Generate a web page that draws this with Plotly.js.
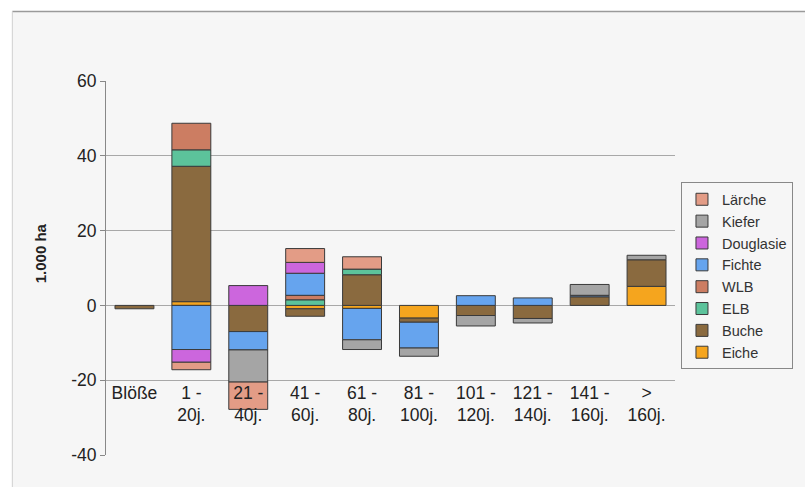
<!DOCTYPE html>
<html>
<head>
<meta charset="utf-8">
<script src="https://cdn.plot.ly/plotly-3.0.1.min.js"></script>
<style>html,body{margin:0;padding:0;background:#fff;}#chart{width:805px;height:487px;}</style>
</head>
<body>
<div id="chart"></div>
<script>
// Categories (age classes)
const categories = ["Blöße", "1 -<br>20j.", "21 -<br>40j.", "41 -<br>60j.", "61 -<br>80j.", "81 -<br>100j.", "101 -<br>120j.", "121 -<br>140j.", "141 -<br>160j.", "><br>160j."];

// Y tick values and labels
const yTickValues = [-40, -20, 0, 20, 40, 60];
const yTickLabels = ["-40", "-20", "0", "20", "40", "60"];

// Series values in 1.000 ha (stack order bottom -> top)
const eiche     = [null, 1.0, null, -0.9, -0.8, -3.4, null, null, null, 5.1];
const buche     = [-0.9, 36.2, -7.0, -2.0, 8.2, -1.1, -2.7, -3.5, 2.3, 7.1];
const elb       = [null, 4.4, null, 1.5, 1.5, null, null, null, null, null];
const wlb       = [null, 7.1, null, 1.2, null, null, null, null, null, null];
const fichte    = [null, -11.8, -4.9, 5.9, -8.4, -6.9, 2.6, 2.0, 0.4, null];
const douglasie = [null, -3.4, 5.3, 2.9, null, null, null, null, null, null];
const kiefer    = [null, null, -8.6, null, -2.6, -2.2, -2.8, -1.2, 2.9, 1.2];
const laerche   = [null, -2.0, -7.3, 3.7, 3.3, null, null, null, null, null];

const seriesNames = ["Eiche", "Buche", "ELB", "WLB", "Fichte", "Douglasie", "Kiefer", "Lärche"];
const seriesValues = [eiche, buche, elb, wlb, fichte, douglasie, kiefer, laerche];
const seriesColors = ["#F5A51E", "#8A6A3F", "#5CC39B", "#CC7D62", "#66A4EE", "#CC66DD", "#A5A5A5", "#E39C86"];

const traces = seriesNames.map((name, i) => ({
  type: "bar",
  name: name,
  x: categories,
  y: seriesValues[i],
  marker: {color: seriesColors[i], line: {color: "#3a3a3a", width: 1}},
  hoverinfo: "x+y+name"
}));

const font = "Arial, 'Liberation Sans', sans-serif";

const boundaries = categories.slice(1).map((_, i) => i + 0.5);

const layout = {
  width: 805, height: 487,
  paper_bgcolor: "#ffffff",
  plot_bgcolor: "rgba(0,0,0,0)",
  margin: {l: 106, r: 128, t: 81, b: 32},
  barmode: "relative",
  bargap: 0.316,
  font: {family: font, color: "#222"},
  showlegend: true,
  legend: {
    traceorder: "reversed",
    x: 1.0105, y: 0.729, xanchor: "left", yanchor: "top",
    bordercolor: "#888", borderwidth: 1, bgcolor: "rgba(0,0,0,0)",
    font: {family: font, size: 14.5, color: "#333"},
    itemwidth: 30
  },
  xaxis: {
    type: "category",
    anchor: "free", position: 0.2,
    showline: false, ticks: "", showgrid: false, zeroline: false,
    tickfont: {family: font, size: 17.5, color: "#222"},
    fixedrange: true
  },
  xaxis2: {
    type: "linear", overlaying: "x", anchor: "free", position: 0.4,
    range: [-0.5, categories.length - 0.5],
    tickmode: "array", tickvals: boundaries,
    ticks: "outside", ticklen: 6, tickcolor: "#555", tickwidth: 1,
    showticklabels: false, showline: true, linecolor: "#555", linewidth: 1,
    showgrid: false, zeroline: false, fixedrange: true
  },
  yaxis: {
    range: [-40, 60],
    tickmode: "array", tickvals: yTickValues, ticktext: yTickLabels,
    showgrid: true, gridcolor: "#a8a8a8", gridwidth: 1,
    zeroline: false,
    showline: true, linecolor: "#888", linewidth: 1,
    ticks: "outside", ticklen: 5, tickcolor: "#888",
    tickfont: {family: font, size: 17.5, color: "#222"},
    fixedrange: true
  },
  annotations: [
    {text: "<b>1.000 ha</b>", xref: "paper", yref: "paper", x: -0.1156, y: 0.54,
     textangle: -90, showarrow: false, xanchor: "center", yanchor: "middle",
     font: {family: font, size: 15, color: "#222"}}
  ],
  shapes: [
    {type: "rect", xref: "paper", yref: "paper", x0: -0.1646, x1: 1.3, y0: -0.3, y1: 1.186,
     fillcolor: "#f6f6f6", line: {width: 0}, layer: "below"},
    {type: "line", xref: "paper", yref: "paper", x0: -0.1646, x1: 1.3, y0: 1.186, y1: 1.186,
     line: {color: "#9a9a9a", width: 1.5}, layer: "below"},
    {type: "line", xref: "paper", yref: "paper", x0: -0.1646, x1: -0.1646, y0: -0.3, y1: 1.186,
     line: {color: "#d0d0d0", width: 1}, layer: "below"}
  ]
};

Plotly.newPlot("chart", traces, layout, {displayModeBar: false, staticPlot: true});
</script>
</body>
</html>
